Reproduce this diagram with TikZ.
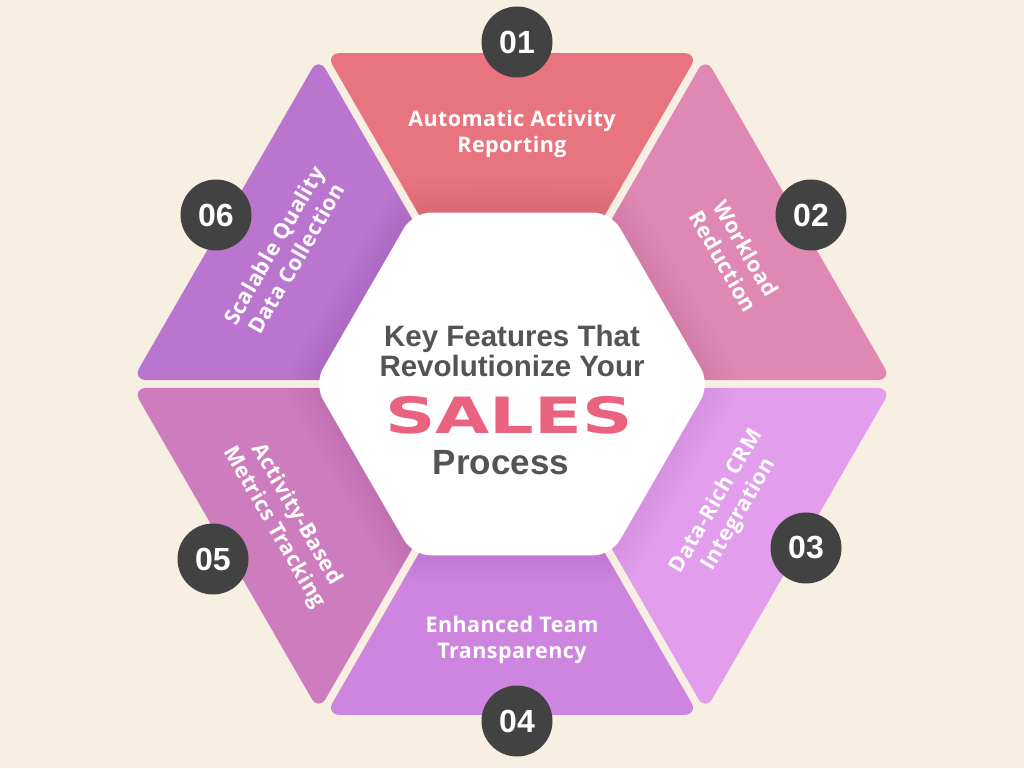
\documentclass[tikz,border=0pt]{standalone}
\usepackage{fontspec}
\setmainfont{Liberation Sans}
\newfontfamily\labfont{Open Sans}[LetterSpace=2]
\newfontfamily\salesfont{DejaVu Sans}
\usetikzlibrary{calc}
\definecolor{bg}{HTML}{F7EFE1}
\definecolor{cA}{HTML}{E8747F}
\definecolor{cB}{HTML}{E088B4}
\definecolor{cC}{HTML}{E29DEC}
\definecolor{cD}{HTML}{CE85DF}
\definecolor{cE}{HTML}{CD7DBD}
\definecolor{cF}{HTML}{BA76CF}
\definecolor{numdark}{HTML}{424242}
\definecolor{ttlgrey}{HTML}{545454}
\definecolor{salespink}{HTML}{E9637E}
\newcommand\hexagonpath[1]{(0,{0.8660254*#1}) -- (120:#1) -- (180:#1) -- (240:#1) -- (300:#1) -- (0:#1) -- (60:#1) -- cycle}
\tikzset{
  numc/.style={circle, fill=numdark, minimum size=71pt, inner sep=0pt, text=white,
    font=\bfseries\fontsize{32}{32}\selectfont},
  lab/.style={align=center, text=white, inner sep=0pt,
    font=\labfont\bfseries\fontsize{21.5}{26}\selectfont},
  ttl/.style={text=ttlgrey, inner sep=0pt, font=\bfseries\fontsize{29.5}{30}\selectfont},
  ttlbig/.style={text=ttlgrey, inner sep=0pt, font=\bfseries\fontsize{35}{35}\selectfont},
  sales/.style={text=salespink, inner sep=0pt, font=\salesfont\bfseries\fontsize{50}{50}\selectfont},
  seg/.style={rounded corners=14pt}
}
\begin{document}
\begin{tikzpicture}[x=1pt,y=1pt]
\fill[bg] (0,0) rectangle (1024,768);
\useasboundingbox (0,0) rectangle (1024,768);
\coordinate (C) at (512,384);
% segments with a soft shadow of the centre hexagon
\foreach \s/\e/\c in {60/120/cA, 0/60/cB, -60/0/cC, 240/300/cD, 180/240/cE, 120/180/cF}{
  \coordinate (A) at ($(C)+(\s:382)$);
  \coordinate (B) at ($(C)+(\e:382)$);
  \begin{scope}
    \clip[seg] ($(A)!0.5!(B)$) -- ($(B)!4.6pt!(A)$) -- ($(C)+({(\s+\e)/2}:8)$) -- ($(A)!4.6pt!(B)$) -- cycle;
    \fill[\c] (0,0) rectangle (1024,768);
    \foreach \k in {1,...,12}{
      \fill[black, opacity=0.0045, rounded corners=18pt, shift={(512,384)}] \hexagonpath{198+3*\k};
    }
  \end{scope}
}
% centre hexagon
\fill[white, rounded corners=18pt, shift={(512,384)}] \hexagonpath{198};
% labels
\node[lab] (l1) at (512,634) {Automatic Activity\\Reporting};
\node[lab, rotate=-60] (l2) at (735,513) {Workload\\Reduction};
\node[lab, rotate=60] (l3) at (728,260) {Data-Rich CRM\\Integration};
\node[lab] (l4) at (512,128) {Enhanced Team\\Transparency};
\node[lab, rotate=-60] (l5) at (285,247) {Activity-Based\\Metrics Tracking};
\node[lab, rotate=60] (l6) at (285,516) {Scalable Quality\\Data Collection};
% numbers
\node[numc] (n1) at (517,726) {01};
\node[numc] (n2) at (811,553) {02};
\node[numc] (n3) at (806,220) {03};
\node[numc] (n4) at (517,47) {04};
\node[numc] (n5) at (213,209) {05};
\node[numc] (n6) at (216,553) {06};
% title
\node[ttl, anchor=base] (t1) at (512,421) {Key Features That};
\node[ttl, anchor=base] (t2) at (512,391) {Revolutionize Your};
\node[sales] (t3) at (509,353) {\scalebox{1.4}[1]{SALES}};
\node[ttlbig, anchor=base] (t4) at (501,293) {Process};
\end{tikzpicture}
\end{document}
